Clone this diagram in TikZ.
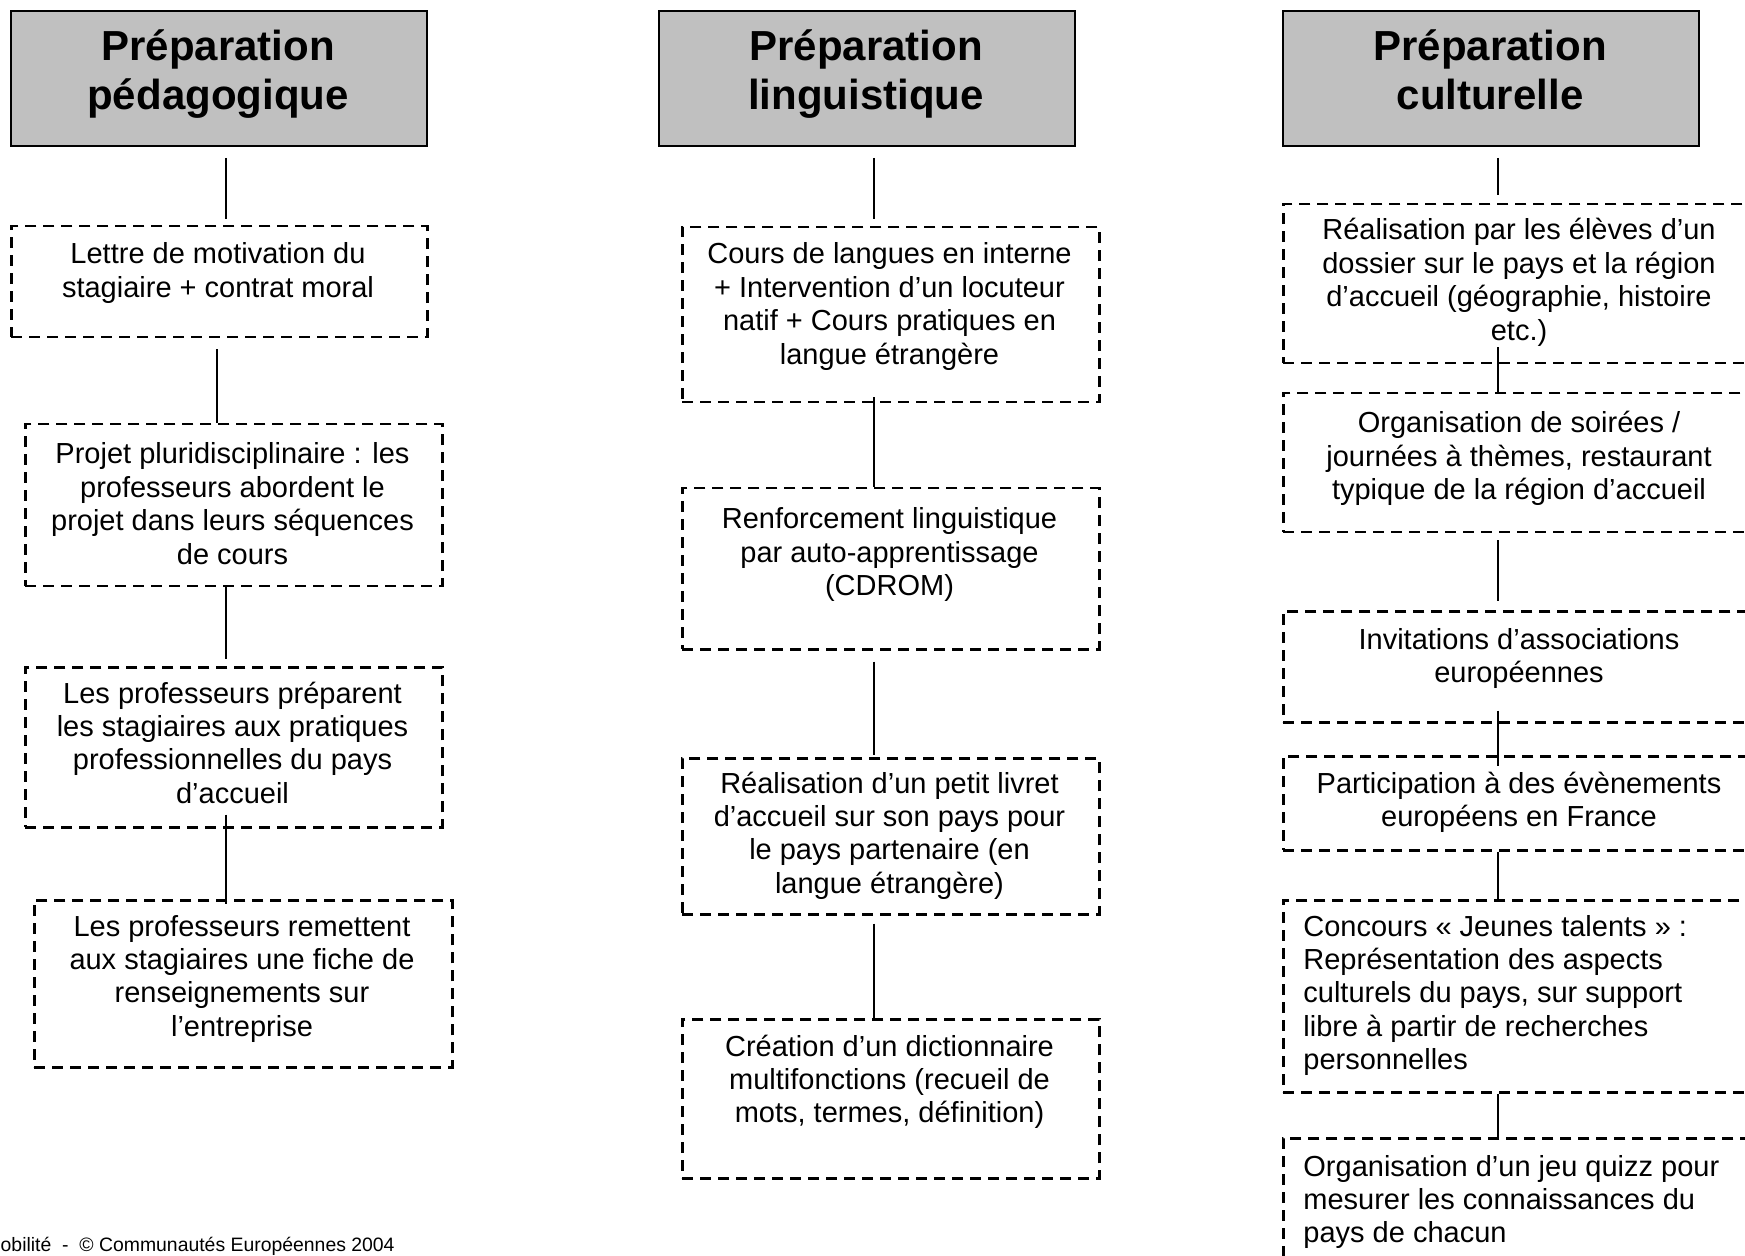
\documentclass[tikz,border=0pt]{standalone}
\usepackage{fontspec}
\setmainfont{Liberation Sans}
\definecolor{boxgray}{HTML}{C0C0C0}
\tikzset{
  titlebox/.style={draw, line width=1pt, fill=boxgray, inner sep=0pt, anchor=north west},
  dbox/.style={draw, line width=1.25pt, dash pattern=on 5.5pt off 3.5pt, inner sep=0pt, anchor=north west},
  conn/.style={line width=1pt},
  ttext/.style={inner sep=0pt, anchor=base, font=\fontsize{21}{24.5}\selectfont\bfseries},
  btext/.style={inner sep=0pt, anchor=base, font=\fontsize{14.5}{16.7}\selectfont},
  ltext/.style={inner sep=0pt, anchor=base west, font=\fontsize{14.5}{16.7}\selectfont},
}
\newcommand{\ctr}[1]{\parbox[t]{260pt}{\centering #1}}
\newcommand{\lft}[1]{\parbox[t]{260pt}{\raggedright #1}}
\begin{document}
\begin{tikzpicture}[x=0.5pt, y=-0.5pt]
\useasboundingbox (0,0) rectangle (1745,1256);
\clip (0,0) rectangle (1745,1256);
\fill[white] (0,0) rectangle (1745,1256);

% connector x positions
\coordinate (ka) at (226,0);
\coordinate (kb) at (217,0);
\coordinate (kc) at (874,0);
\coordinate (kd) at (1498,0);

% ---------- Column 1 ----------
\node[titlebox, minimum width=208pt, minimum height=67.5pt] (t1) at (10,10) {};
\node[ttext] (t1t) at (218,61) {\ctr{Préparation\\pédagogique}};

\node[dbox, minimum width=208pt, minimum height=55.5pt] (l1) at (10,225) {};
\node[btext] (l1t) at (218,264) {\ctr{Lettre de motivation du\\stagiaire + contrat moral}};

\node[dbox, minimum width=208.5pt, minimum height=81pt] (p1) at (24,423) {};
\node[btext] (p1t) at (232.5,464) {\ctr{Projet pluridisciplinaire : les\\professeurs abordent le\\projet dans leurs séquences\\de cours}};

\node[dbox, minimum width=208.5pt, minimum height=80pt] (q1) at (24,666) {};
\node[btext] (q1t) at (232.5,703) {\ctr{Les professeurs préparent\\les stagiaires aux pratiques\\professionnelles du pays\\d’accueil}};

\node[dbox, minimum width=209pt, minimum height=83.5pt] (r1) at (33,899) {};
\node[btext] (r1t) at (242,936) {\ctr{Les professeurs remettent\\aux stagiaires une fiche de\\renseignements sur\\l’entreprise}};

\draw[conn, shorten <=5.5pt, shorten >=3pt] (t1.south -| ka) -- (l1.north -| ka);
\draw[conn, shorten <=5.5pt] (l1.south -| kb) -- (p1.north -| kb);
\draw[conn, shorten >=3.5pt] (p1.south -| ka) -- (q1.north -| ka);
\draw[conn, shorten <=-7pt, shorten >=-2.5pt] (q1.south -| ka) -- (r1.north -| ka);

% ---------- Column 2 ----------
\node[titlebox, minimum width=208pt, minimum height=67.5pt] (t2) at (658,10) {};
\node[ttext] (t2t) at (866,61) {\ctr{Préparation\\linguistique}};

\node[dbox, minimum width=208.5pt, minimum height=87.5pt] (c2) at (681,226) {};
\node[btext] (c2t) at (889.5,264) {\ctr{Cours de langues en interne\\+ Intervention d’un locuteur\\natif + Cours pratiques en\\langue étrangère}};

\node[dbox, minimum width=208.5pt, minimum height=80.5pt] (n2) at (681,487) {};
\node[btext] (n2t) at (889.5,529) {\ctr{Renforcement linguistique\\par auto-apprentissage\\(CDROM)}};

\node[dbox, minimum width=208.5pt, minimum height=78pt] (r2) at (681,757) {};
\node[btext] (r2t) at (889.5,793) {\ctr{Réalisation d’un petit livret\\d’accueil sur son pays pour\\le pays partenaire (en\\langue étrangère)}};

\node[dbox, minimum width=208.5pt, minimum height=79.5pt] (d2) at (681,1018) {};
\node[btext] (d2t) at (889.5,1056) {\ctr{Création d’un dictionnaire\\multifonctions (recueil de\\mots, termes, définition)}};

\draw[conn, shorten <=5.5pt, shorten >=3.5pt] (t2.south -| kc) -- (c2.north -| kc);
\draw[conn, shorten <=-3pt] (c2.south -| kc) -- (n2.north -| kc);
\draw[conn, shorten <=5.5pt, shorten >=1pt] (n2.south -| kc) -- (r2.north -| kc);
\draw[conn, shorten <=4pt] (r2.south -| kc) -- (d2.north -| kc);

% ---------- Column 3 ----------
\node[titlebox, minimum width=208pt, minimum height=67.5pt] (t3) at (1282,10) {};
\node[ttext] (t3t) at (1490,61) {\ctr{Préparation\\culturelle}};

\node[dbox, minimum width=237pt, minimum height=79.5pt] (a3) at (1282,203) {};
\node[btext] (a3t) at (1519,240) {\ctr{Réalisation par les élèves d’un\\dossier sur le pays et la région\\d’accueil (géographie, histoire\\etc.)}};

\node[dbox, minimum width=237pt, minimum height=69.5pt] (s3) at (1282,392) {};
\node[btext] (s3t) at (1519,433) {\ctr{Organisation de soirées /\\journées à thèmes, restaurant\\typique de la région d’accueil}};

\node[dbox, minimum width=237pt, minimum height=55.5pt] (i3) at (1282,610) {};
\node[btext] (i3t) at (1519,649) {\ctr{Invitations d’associations\\européennes}};

\node[dbox, minimum width=237pt, minimum height=47pt] (e3) at (1282,755) {};
\node[btext] (e3t) at (1519,793) {\ctr{Participation à des évènements\\européens en France}};

\node[dbox, minimum width=237pt, minimum height=96pt] (o3) at (1282,899) {};
\node[ltext] (o3t) at (1303,936) {\lft{Concours « Jeunes talents » :\\Représentation des aspects\\culturels du pays, sur support\\libre à partir de recherches\\personnelles}};

\node[dbox, minimum width=237pt, minimum height=75pt] (z3) at (1282,1137) {};
\node[ltext] (z3t) at (1303,1176) {\lft{Organisation d’un jeu quizz pour\\mesurer les connaissances du\\pays de chacun}};

\draw[conn, shorten <=5.5pt, shorten >=4pt] (t3.south -| kd) -- (a3.north -| kd);
\draw[conn, shorten <=-8.5pt] (a3.south -| kd) -- (s3.north -| kd);
\draw[conn, shorten <=3.5pt, shorten >=4.5pt] (s3.south -| kd) -- (i3.north -| kd);
\draw[conn, shorten <=-6.5pt, shorten >=-5.5pt] (i3.south -| kd) -- (e3.north -| kd);
\draw[conn] (e3.south -| kd) -- (o3.north -| kd);
\draw[conn] (o3.south -| kd) -- (z3.north -| kd);

% ---------- Footer ----------
\node[inner sep=0pt, anchor=base east, font=\fontsize{9.7}{11}\selectfont] (foot) at (395,1251) {Mobilité\ \ -\ \ © Communautés Européennes 2004};
\end{tikzpicture}
\end{document}
